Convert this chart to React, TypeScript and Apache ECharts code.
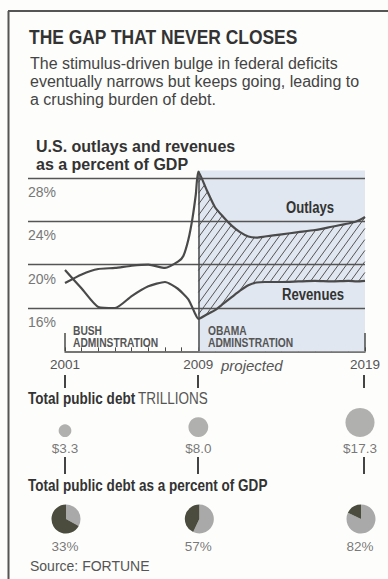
import React, { useEffect, useRef } from "react";
import * as echarts from "echarts";

// ---- data ----
const outlayYears = [2001, 2002, 2003, 2004, 2005, 2006, 2007, 2007.8, 2008.1, 2008.4, 2008.65, 2008.85];
const outlayHist = [18.3, 19.1, 19.6, 19.7, 19.9, 20.0, 19.7, 20.3, 20.8, 22.3, 24.3, 26.5];
const revenueYears = [2001, 2002, 2003, 2004, 2005, 2006, 2007, 2007.75, 2008.4, 2008.8];
const revenueHist = [19.5, 17.8, 16.1, 16.0, 17.1, 18.0, 18.4, 17.8, 16.8, 15.5];
const projYears = [2009, 2009.5, 2010, 2010.5, 2011, 2011.5, 2012, 2012.5, 2013, 2014, 2015, 2016, 2017, 2018, 2018.5, 2019];
const outlayProj = [28.6, 26.9, 25.3, 24.4, 23.6, 23.0, 22.6, 22.5, 22.6, 22.8, 23.0, 23.2, 23.5, 23.8, 24.0, 24.4];
const revenueProj = [15.0, 15.4, 15.8, 16.4, 17.0, 17.6, 18.1, 18.35, 18.4, 18.4, 18.45, 18.5, 18.45, 18.5, 18.45, 18.5];
const yTicks = [16, 20, 24, 28];
const markYears = [2001, 2009, 2019];
const debtTrillions = [3.3, 8.0, 17.3];
const debtPctGdp = [33, 57, 82];

const SANS = "'Liberation Sans', Arial, Helvetica, sans-serif";
const NX = 0.82; // horizontal squeeze emulating a condensed face
const INK = "#4a4a4a";

const GL = 65, GW = 300, GT = 156.33, GH = 195;
const xOf = (yr: number) => GL + ((yr - 2001) / 18) * GW;

function interp(pts: number[][], x: number) {
  for (let i = 0; i < pts.length - 1; i++) {
    const a = pts[i], b = pts[i + 1];
    if (x >= a[0] && x <= b[0]) {
      const t = b[0] === a[0] ? 0 : (x - a[0]) / (b[0] - a[0]);
      return a[1] + t * (b[1] - a[1]);
    }
  }
  return NaN;
}

export default function App() {
  const ref = useRef<HTMLDivElement>(null);
  useEffect(() => {
    const el = ref.current!;
    const chart = echarts.init(el, null, { renderer: "svg" });

    const outlaysAll = [
      ...outlayYears.map((y, i) => [y, outlayHist[i]]),
      ...projYears.map((y, i) => [y, outlayProj[i]]),
    ];
    const revenuesAll = [
      ...revenueYears.map((y, i) => [y, revenueHist[i]]),
      ...projYears.map((y, i) => [y, revenueProj[i]]),
    ];

    const offs = [0, 0, -5];

    const pies = debtPctGdp.map((p, i) => ({
      type: "pie",
      silent: true,
      center: [xOf(markYears[i]) + offs[i] + 1, 519],
      radius: 14.5,
      startAngle: 90,
      clockwise: true,
      label: { show: false },
      labelLine: { show: false },
      itemStyle: { borderWidth: 0 },
      data: [
        { value: p, itemStyle: { color: "#a9a9a9" } },
        { value: 100 - p, itemStyle: { color: "#4b4c3e" } },
      ],
      z: 3,
    }));

    const text = (x: number, y: number, t: string, font: string, fill: string, align = "left", sx = 1, lh?: number) => ({
      type: "text",
      x,
      y,
      z: 100,
      scaleX: sx,
      silent: true,
      style: { text: t, font, fill, textAlign: align, textVerticalAlign: "middle", lineHeight: lh },
    });

    const graphic: any[] = [
      { type: "line", z: 100, silent: true, shape: { x1: 8, y1: 11, x2: 388, y2: 11 }, style: { stroke: "#555", lineWidth: 2 } },
      { type: "line", z: 100, silent: true, shape: { x1: 8.5, y1: 11, x2: 8.5, y2: 579 }, style: { stroke: "#555", lineWidth: 2 } },
      text(29, 37, "THE GAP THAT NEVER CLOSES", `bold 21px ${SANS}`, "#333", "left", 0.83),
      text(30, 63, "The stimulus-driven bulge in federal deficits", `16px ${SANS}`, "#444"),
      text(30, 81, "eventually narrows but keeps going, leading to", `16px ${SANS}`, "#444"),
      text(30, 99, "a crushing burden of debt.", `16px ${SANS}`, "#444"),
      text(36, 146, "U.S. outlays and revenues", `bold 16px ${SANS}`, "#333"),
      text(36, 164, "as a percent of GDP", `bold 16px ${SANS}`, "#333"),
      text(310, 208, "Outlays", `bold 16px ${SANS}`, "#333", "center", NX),
      text(313, 295, "Revenues", `bold 16px ${SANS}`, "#333", "center", NX),
      text(73, 336.5, "BUSH\nADMINSTRATION", `bold 12.5px ${SANS}`, "#555", "left", NX, 12.5),
      text(208, 336.5, "OBAMA\nADMINSTRATION", `bold 12.5px ${SANS}`, "#555", "left", NX, 12.5),
      text(221, 365, "projected", `italic 15px ${SANS}`, "#555"),
      {
        type: "text",
        x: 28,
        y: 398,
        z: 100,
        scaleX: NX,
        silent: true,
        style: {
          text: "{b|Total public debt} {r|TRILLIONS}",
          textVerticalAlign: "middle",
          rich: {
            b: { font: `bold 16.5px ${SANS}`, fill: "#333" },
            r: { font: `16.5px ${SANS}`, fill: "#555" },
          },
        },
      },
      text(28, 485, "Total public debt as a percent of GDP", `bold 16.5px ${SANS}`, "#333", "left", NX),
      text(30, 566, "Source: FORTUNE", `14px ${SANS}`, "#555"),
    ];
    markYears.forEach((yr) => {
      const x = Math.round(xOf(yr)) - (yr === 2019 ? 1 : 0);
      graphic.push({ type: "line", z: 100, silent: true, shape: { x1: x, y1: 375, x2: x, y2: 388 }, style: { stroke: "#444", lineWidth: 2 } });
      graphic.push({ type: "line", z: 100, silent: true, shape: { x1: x, y1: 457, x2: x, y2: 474 }, style: { stroke: "#444", lineWidth: 2 } });
    });

    // hatch between the projected outlays and revenues, computed in pixel space from the axes
    const renderHatch = (params: any, api: any) => {
      if (params.dataIndex !== 0) return null;
      const top = projYears.map((y, i) => api.coord([y, outlayProj[i]]));
      const bot = projYears.map((y, i) => api.coord([y, revenueProj[i]]));
      const x0 = top[0][0], x1 = top[top.length - 1][0];
      const yTop = Math.min(...top.map((p: number[]) => p[1]));
      const yBot = Math.max(...bot.map((p: number[]) => p[1]));
      const k = 8 / 11;
      const step = 8;
      const children: any[] = [];
      const seg = (a: number[], b: number[]) => ({
        type: "line",
        shape: { x1: a[0], y1: a[1], x2: b[0], y2: b[1] },
        style: { stroke: "#555", lineWidth: 1 },
      });
      for (let c = x0 - (yBot - yTop) * k; c < x1 + step; c += step) {
        let run: number[] | null = null;
        let last: number[] = [0, 0];
        for (let y = yBot; y >= yTop - 0.5; y -= 0.4) {
          const x = c + (yBot - y) * k;
          const inside = x >= x0 && x <= x1 && y >= interp(top, x) && y <= interp(bot, x);
          if (inside) {
            if (!run) run = [x, y];
            last = [x, y];
          } else if (run) {
            children.push(seg(run, last));
            run = null;
          }
        }
        if (run) children.push(seg(run, last));
      }
      return { type: "group", children };
    };

    chart.setOption({
      animation: false,
      backgroundColor: "#fdfdfb",
      grid: [
        { left: GL, top: GT, width: GW, height: GH },
        { left: 28, top: 178, width: 337, height: 130 },
        { left: GL, top: 437, width: GW, height: 82 },
      ],
      xAxis: [
        {
          gridIndex: 0,
          type: "value",
          min: 2001,
          max: 2019,
          interval: 1,
          axisLine: { show: true, onZero: false, lineStyle: { color: INK, width: 1.5 } },
          axisTick: { show: true, inside: true, length: 4, lineStyle: { color: INK, width: 1 } },
          axisLabel: {
            showMinLabel: true,
            showMaxLabel: true,
            margin: 6,
            color: "#555",
            fontSize: 13.5,
            fontFamily: SANS,
            formatter: (v: number) => (markYears.includes(v) ? String(v) : ""),
          },
          splitLine: { show: false },
        },
        { gridIndex: 1, type: "value", min: 0, max: 1, show: false },
        { gridIndex: 2, type: "value", min: 2001, max: 2019, show: false },
      ],
      yAxis: [
        { gridIndex: 0, type: "value", min: 12, max: 30, show: false },
        {
          gridIndex: 1,
          type: "value",
          min: yTicks[0],
          max: yTicks[yTicks.length - 1],
          interval: 4,
          z: 3,
          axisLine: { show: false },
          axisTick: { show: false },
          splitLine: { show: true, lineStyle: { color: "#555", width: 1.3 } },
          axisLabel: {
            inside: true,
            margin: 0,
            align: "left",
            verticalAlign: "top",
            padding: [7, 0, 0, 0],
            lineHeight: 14,
            color: "#777",
            fontSize: 14,
            fontFamily: SANS,
            showMinLabel: true,
            showMaxLabel: true,
            formatter: "{value}%",
          },
        },
        { gridIndex: 2, type: "value", min: 0, max: 1, show: false },
      ],
      series: [
        {
          name: "shade",
          type: "line",
          xAxisIndex: 0,
          yAxisIndex: 0,
          data: projYears.map((y, i) => [y, revenueProj[i]]),
          symbol: "none",
          silent: true,
          lineStyle: { width: 0, opacity: 0 },
          z: 1,
          markArea: {
            silent: true,
            itemStyle: { color: "#e0e7f0" },
            data: [[{ coord: [2009, 28.7] }, { coord: [2019, 12] }]],
          },
        },
        {
          name: "gap",
          type: "custom",
          xAxisIndex: 0,
          yAxisIndex: 0,
          silent: true,
          z: 2,
          data: projYears.map((y, i) => [y, outlayProj[i], revenueProj[i]]),
          encode: { x: 0, y: 1 },
          renderItem: renderHatch,
        },
        {
          name: "Outlays",
          type: "line",
          xAxisIndex: 0,
          yAxisIndex: 0,
          data: outlaysAll,
          symbol: "none",
          smooth: 0.2,
          lineStyle: { color: INK, width: 2.2 },
          z: 4,
          markLine: {
            silent: true,
            symbol: ["none", "none"],
            label: { show: false },
            lineStyle: { color: INK, width: 1.5, type: "solid" },
            data: markYears.map((yr) => [
              { coord: [yr, 12] },
              { coord: [yr, yr === 2009 ? outlayProj[0] : 13.7] },
            ]),
          },
        },
        {
          name: "Revenues",
          type: "line",
          xAxisIndex: 0,
          yAxisIndex: 0,
          data: revenuesAll,
          symbol: "none",
          smooth: 0.2,
          lineStyle: { color: INK, width: 2.2 },
          z: 4,
        },
        {
          name: "debt",
          type: "scatter",
          xAxisIndex: 2,
          yAxisIndex: 2,
          clip: false,
          silent: true,
          data: debtTrillions.map((v, i) => ({
            value: [markYears[i], 1, v],
            symbolOffset: [offs[i], "-50%"],
          })),
          symbolSize: (val: number[]) => 7 * Math.sqrt(val[2]),
          itemStyle: { color: "#9c9c9c" },
          z: 3,
        },
        {
          name: "debtLabels",
          type: "scatter",
          xAxisIndex: 2,
          yAxisIndex: 2,
          clip: false,
          silent: true,
          symbolSize: 1,
          itemStyle: { color: "transparent" },
          data: debtTrillions.map((v, i) => ({
            value: [markYears[i], 1, v],
            label: { offset: [offs[i], 0] },
          })),
          label: {
            show: true,
            position: "bottom",
            distance: 3,
            color: "#555",
            fontSize: 13.5,
            fontFamily: SANS,
            lineHeight: 15,
            formatter: (p: any) => "$" + p.value[2].toFixed(1),
          },
        },
        {
          name: "pctLabels",
          type: "scatter",
          xAxisIndex: 2,
          yAxisIndex: 2,
          clip: false,
          silent: true,
          symbolSize: 1,
          itemStyle: { color: "transparent" },
          data: debtPctGdp.map((v, i) => ({
            value: [markYears[i], 0, v],
            label: { offset: [offs[i], 0] },
          })),
          label: {
            show: true,
            position: "bottom",
            distance: 19,
            color: "#555",
            fontSize: 13.5,
            fontFamily: SANS,
            lineHeight: 15,
            formatter: (p: any) => p.value[2] + "%",
          },
        },
        ...pies,
      ],
      graphic,
    });
    return () => chart.dispose();
  }, []);
  return (
    <div
      ref={ref}
      style={{ position: "fixed", left: 0, top: 0, width: 388, height: 579 }}
    />
  );
}
